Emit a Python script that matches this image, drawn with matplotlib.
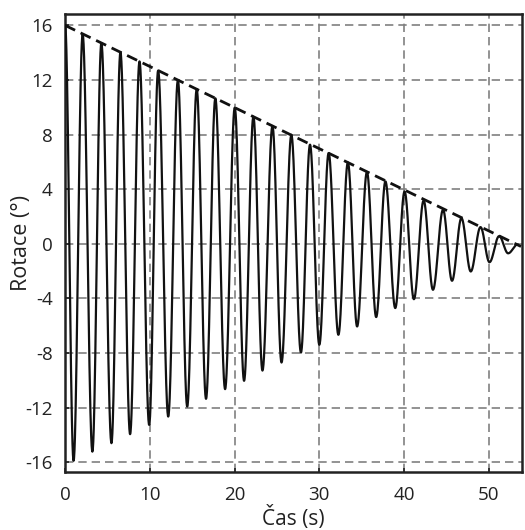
import numpy as np
import matplotlib
matplotlib.use('Agg')
import matplotlib.pyplot as plt

# extrema of the oscillation (time in s, rotation in deg)
peak_times = [0.0, 1.0, 2.07, 3.22, 4.28, 5.47, 6.53, 7.67, 8.78, 9.92, 10.98, 12.17,
              13.31, 14.41, 15.53, 16.63, 17.73, 18.88, 20.02, 21.12, 22.22, 23.29,
              24.47, 25.54, 26.7, 27.83, 28.9, 30.0, 31.1, 32.25, 33.37, 34.46,
              35.62, 36.71, 37.8, 38.96, 40.06, 41.16, 42.31, 43.41, 44.6, 45.66,
              46.77, 47.87, 49.02, 50.08, 51.22, 52.28, 53.4]
peak_values = [16.0, -15.9, 15.35, -15.23, 14.7, -14.61, 14.03, -13.95, 13.36, -13.27,
               12.69, -12.66, 12.0, -11.93, 11.33, -11.36, 10.66, -10.65, 9.97, -10.04,
               9.31, -9.29, 8.63, -8.7, 7.98, -7.97, 7.26, -7.4, 6.65, -6.67, 5.96,
               -6.06, 5.26, -5.37, 4.57, -4.71, 3.83, -4.06, 3.17, -3.37, 2.49, -2.71,
               1.88, -2.03, 1.22, -1.35, 0.56, -0.7, -0.05]

# dashed envelope
env_times = [0.0, 53.8]
env_values = [16.0, -0.2]

x_ticks = [0, 10, 20, 30, 40, 50]
y_ticks = [-16, -12, -8, -4, 0, 4, 8, 12, 16]


def smooth_curve(ts, vs, n=40):
    # half-cosine segments joining successive extrema
    xs, ys = [], []
    for i in range(len(ts) - 1):
        s = np.linspace(0, 1, n, endpoint=False)
        w = (1 - np.cos(np.pi * s)) / 2
        xs.append(ts[i] + (ts[i + 1] - ts[i]) * s)
        ys.append(vs[i] + (vs[i + 1] - vs[i]) * w)
    xs.append([ts[-1]])
    ys.append([vs[-1]])
    return np.concatenate(xs), np.concatenate(ys)


plt.rcParams['font.family'] = ['Open Sans', 'DejaVu Sans']
plt.rcParams['axes.unicode_minus'] = False

fig = plt.figure(figsize=(5.25, 5.3), dpi=100)
ax = fig.add_axes([0.124, 0.110, 0.870, 0.864])

t, rot = smooth_curve(peak_times, peak_values)
ax.plot(t, rot, color='#111111', linewidth=1.6, zorder=3)
ax.plot(env_times, env_values, color='#111111', linewidth=2.0,
        linestyle=(0, (4, 2.2)), zorder=4)

ax.set_xlim(0, 53.9)
ax.set_ylim(-16.7, 16.85)
ax.set_xticks(x_ticks)
ax.set_yticks(y_ticks)
ax.grid(True, color='#808080', linestyle=(0, (5, 3)), linewidth=1.2)
ax.set_axisbelow(True)

for side in ['left', 'bottom', 'top', 'right']:
    ax.spines[side].set_linewidth(1.8)
    ax.spines[side].set_color('#222222')

ax.tick_params(axis='both', direction='in', length=3, width=1.2,
               labelsize=13.5, colors='#222222')
ax.tick_params(axis='x', pad=10)
ax.tick_params(axis='y', pad=9)
ax.set_xlabel('Čas (s)', fontsize=15, color='#222222', labelpad=2)
ax.set_ylabel('Rotace (°)', fontsize=15.5, color='#222222')
ax.yaxis.set_label_coords(-0.072, 0.5)

fig.savefig('out.png', dpi=100)
